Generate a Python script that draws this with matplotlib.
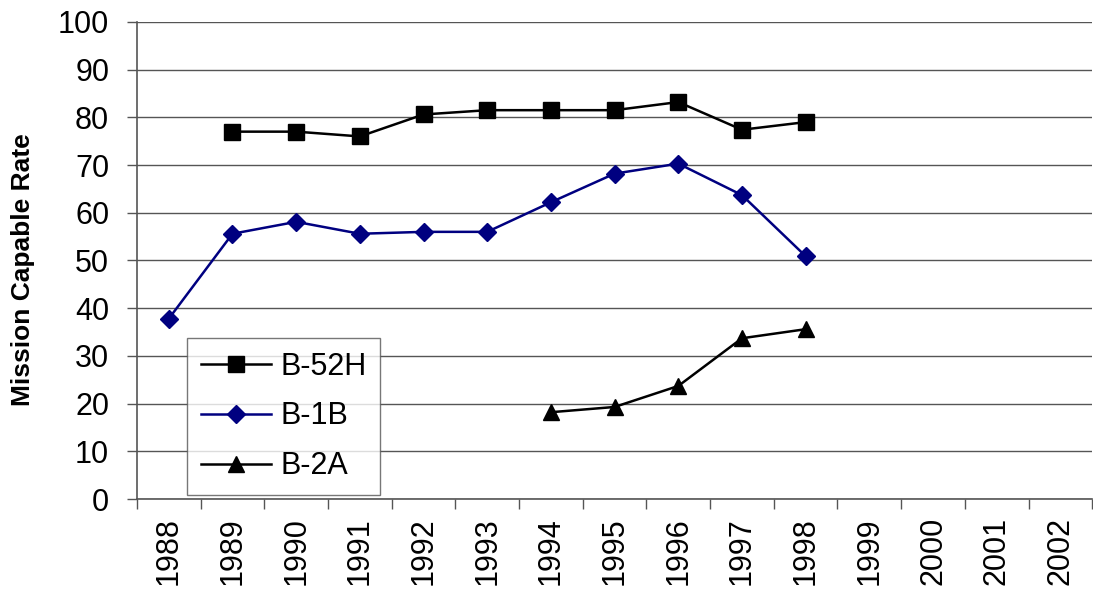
import matplotlib
matplotlib.use("Agg")
import matplotlib.pyplot as plt
import numpy as np

plt.rcParams['font.family'] = ['Liberation Sans', 'DejaVu Sans']

years = ['1988', '1989', '1990', '1991', '1992', '1993', '1994', '1995',
         '1996', '1997', '1998', '1999', '2000', '2001', '2002']
b52h_years = ['1989', '1990', '1991', '1992', '1993', '1994', '1995', '1996', '1997', '1998']
b52h = [77.0, 77.0, 76.0, 80.6, 81.5, 81.5, 81.5, 83.2, 77.4, 79.0]
b1b_years = ['1988', '1989', '1990', '1991', '1992', '1993', '1994', '1995', '1996', '1997', '1998']
b1b = [37.8, 55.6, 58.1, 55.6, 56.0, 56.0, 62.2, 68.2, 70.3, 63.7, 50.9]
b2a_years = ['1994', '1995', '1996', '1997', '1998']
b2a = [18.2, 19.3, 23.7, 33.7, 35.6]

fig = plt.figure(figsize=(10.93, 5.92), dpi=100)
ax = fig.add_axes([0.1253, 0.157, 0.874, 0.806])

idx = {y: i for i, y in enumerate(years)}
def xs(ys):
    return [idx[y] for y in ys]

ax.plot(xs(b52h_years), b52h, color='black', lw=1.8, marker='s', ms=11.5,
        label='B-52H', zorder=3)
ax.plot(xs(b1b_years), b1b, color='#000080', lw=1.8, marker='D', ms=9,
        label='B-1B', zorder=3)
ax.plot(xs(b2a_years), b2a, color='black', lw=1.8, marker='^', ms=12,
        label='B-2A', zorder=3)

ax.set_xlim(-0.5, len(years) - 0.5)
ax.set_ylim(0, 100)
ax.set_yticks(np.arange(0, 101, 10))
ax.yaxis.grid(True, color='#555555', lw=1.0)
ax.set_axisbelow(True)

ax.set_xticks(np.arange(len(years)))
ax.set_xticklabels(years, rotation=90, fontsize=22)
ax.tick_params(axis='x', which='major', length=0, pad=13)
ax.set_xticks(np.arange(-0.5, len(years)), minor=True)
ax.tick_params(axis='x', which='minor', length=7, width=1, color='#555555')
ax.tick_params(axis='y', labelsize=22, length=7, width=1, color='#555555', pad=13)

for s in ['top', 'right']:
    ax.spines[s].set_visible(False)
for s in ['left', 'bottom']:
    ax.spines[s].set_color('#555555')
    ax.spines[s].set_linewidth(1.2)

fig.text(0.021, 0.544, 'Mission Capable Rate', fontsize=19, fontweight='bold',
         rotation=90, ha='center', va='center')

leg = ax.legend(loc='lower left', bbox_to_anchor=(0.0523, 0.0084), fontsize=22,
                frameon=True, fancybox=False, edgecolor='#555555',
                handlelength=2.3, handletextpad=0.3, labelspacing=0.65,
                borderpad=0.45, borderaxespad=0)
leg.get_frame().set_linewidth(1.0)

fig.savefig('out.png', dpi=100)
